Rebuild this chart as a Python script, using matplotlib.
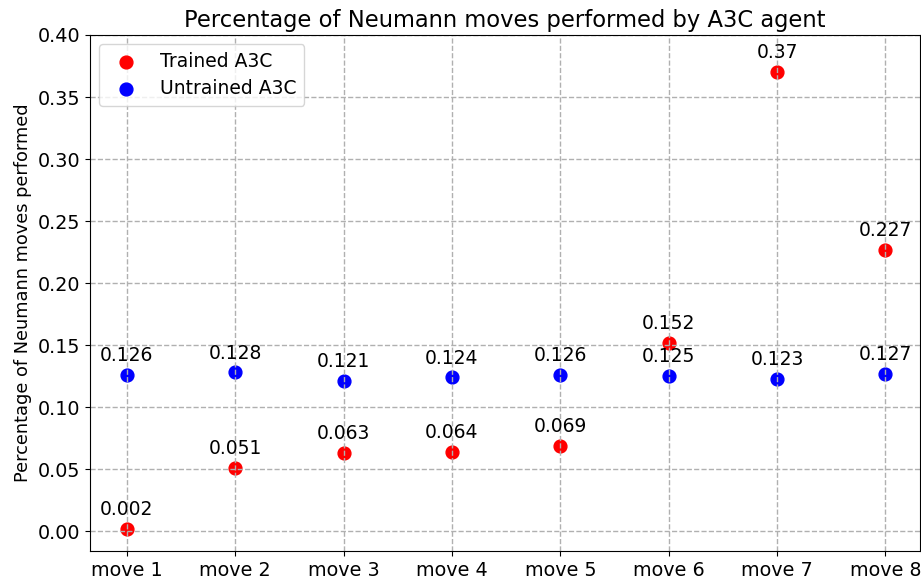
import matplotlib
matplotlib.use("Agg")
import matplotlib.pyplot as plt

moves = ["move 1", "move 2", "move 3", "move 4", "move 5", "move 6", "move 7", "move 8"]
trained = [0.002, 0.051, 0.063, 0.064, 0.069, 0.152, 0.37, 0.227]
untrained = [0.126, 0.128, 0.121, 0.124, 0.126, 0.125, 0.123, 0.127]

fig = plt.figure(figsize=(9.21, 5.87), dpi=100)
ax = fig.add_axes([0.0977, 0.0613, 0.9013, 0.8791])

x = list(range(len(moves)))
ax.scatter(x, trained, color="red", s=85, label="Trained A3C")
ax.scatter(x, untrained, color="blue", s=85, label="Untrained A3C")

for xi, v in zip(x, trained):
    ax.annotate(f"{v:g}", (xi, v), textcoords="offset points", xytext=(0, 7),
                ha="center", va="bottom", fontsize=13.5)
for xi, v in zip(x, untrained):
    ax.annotate(f"{v:g}", (xi, v), textcoords="offset points", xytext=(0, 7),
                ha="center", va="bottom", fontsize=13.5)

ax.set_xticks(x)
ax.set_xticklabels(moves, fontsize=13.75)
ax.tick_params(axis="y", labelsize=13.75)
ax.set_yticks([0.0, 0.05, 0.10, 0.15, 0.20, 0.25, 0.30, 0.35, 0.40])
ax.set_yticklabels(["0.00", "0.05", "0.10", "0.15", "0.20", "0.25", "0.30", "0.35", "0.40"])
ax.set_ylim(-0.016, 0.40)
ax.set_xlim(-0.34, 7.32)
ax.set_ylabel("Percentage of Neumann moves performed", fontsize=12.8)
ax.set_title("Percentage of Neumann moves performed by A3C agent", fontsize=16.3)
ax.grid(True, linestyle="--", color="#b0b0b0", linewidth=1.0)
ax.legend(loc="upper left", fontsize=13.5, borderpad=0.4, handletextpad=0.85,
          borderaxespad=0.5, labelspacing=0.45)

fig.savefig("out.png", dpi=100)
